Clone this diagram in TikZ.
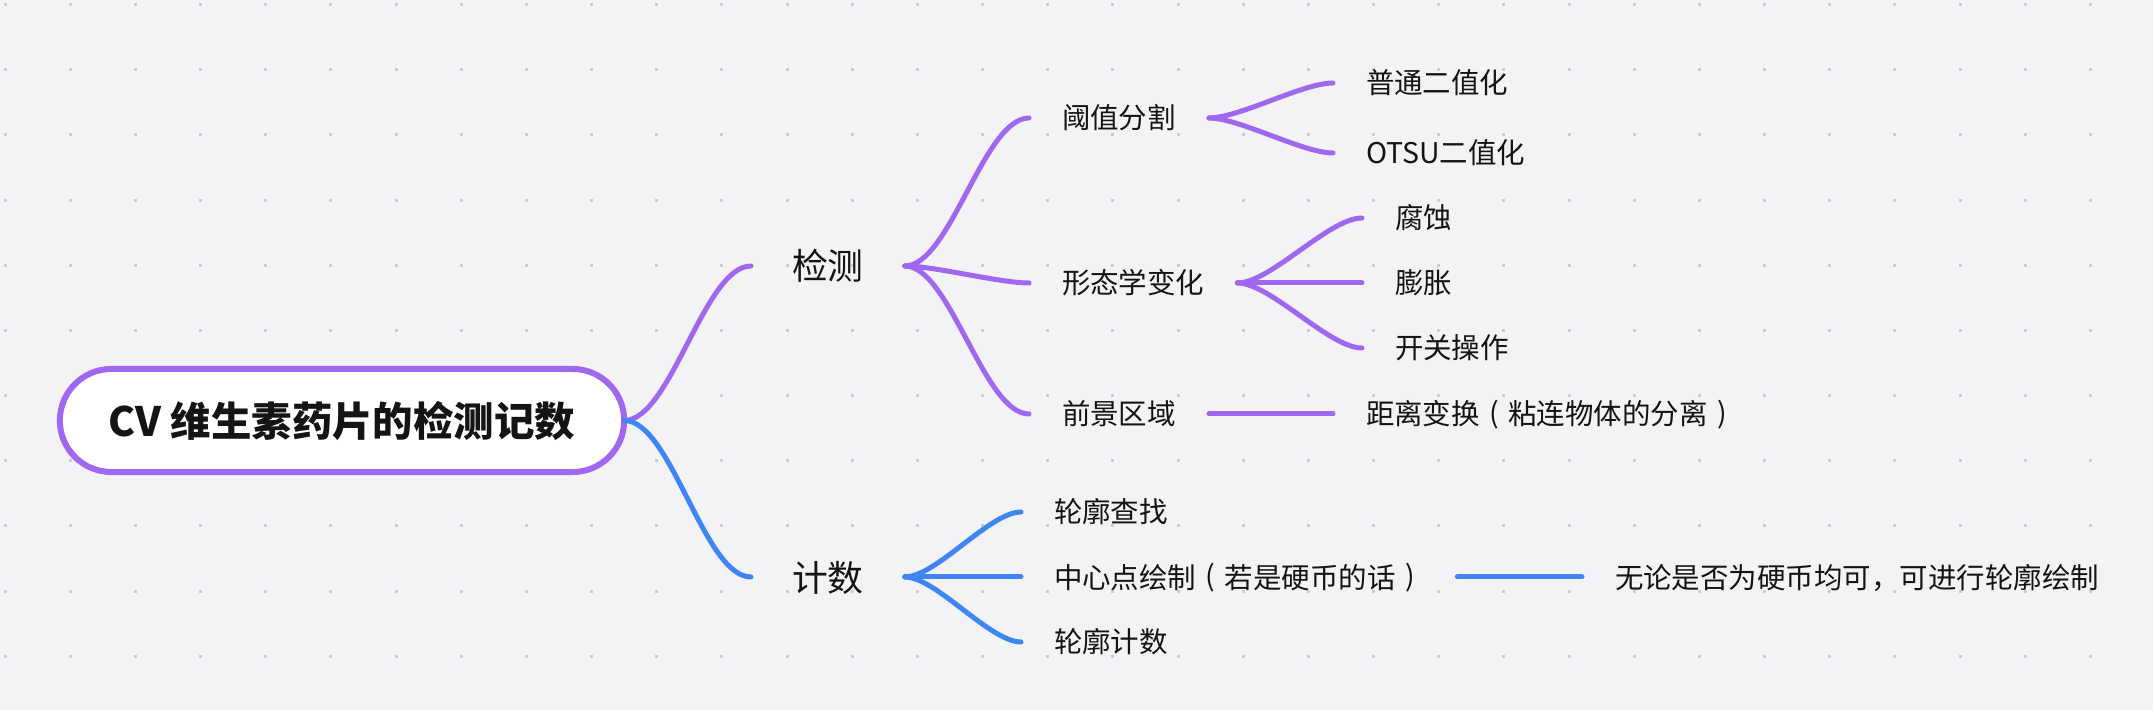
\documentclass[tikz,border=0pt]{standalone}
\usepackage{fontspec}
\setmainfont{Noto Sans CJK SC}
\usepackage{tikz}

\definecolor{mapbg}{RGB}{243,243,245}
\definecolor{griddot}{RGB}{204,204,208}
\definecolor{linkpurple}{RGB}{160,104,240}
\definecolor{linkblue}{RGB}{64,133,246}
\definecolor{inkblack}{RGB}{20,20,20}

\newcommand{\lparen}{\makebox[1em]{\raisebox{0.05em}{(}}}
\newcommand{\rparen}{\makebox[1em]{\raisebox{0.05em}{)}}}

\begin{document}
\begin{tikzpicture}[x=0.01cm, y=-0.01cm,
    every node/.style={text=inkblack, inner ysep=0pt, outer sep=0pt},
    centraltopic/.style={draw=linkpurple, line width=0.06cm, fill=white, rounded corners=0.515cm,
        minimum width=5.64cm, minimum height=1.03cm, inner xsep=0pt,
        font=\fontsize{11.5}{12}\selectfont\bfseries, text height=0.31cm, text depth=0cm},
    topic/.style={anchor=west, inner xsep=0.41cm, font=\fontsize{10.2}{11}\selectfont,
        text height=0.28cm, text depth=0cm},
    leaf/.style={anchor=west, inner xsep=0.33cm, font=\fontsize{8.1}{9}\selectfont,
        text height=0.22cm, text depth=0cm},
    maplink/.style={line width=0.05cm, line cap=round},
    purplelink/.style={maplink, draw=linkpurple},
    bluelink/.style={maplink, draw=linkblue},
    branch/.style={out=0, in=180, looseness=0.6}]

    \fill[mapbg] (0,0) rectangle (2153,710);
    \useasboundingbox (0,0) rectangle (2153,710);
    \foreach \i in {0,...,32}
        \foreach \j in {0,...,10}
            \fill[griddot] ({3.5+65.17*\i},{3+65.17*\j}) rectangle +(3,3);

    \node[centraltopic] (cv) at (342,420.5) {CV 维生素药片的检测记数};

    \node[topic] (jiance) at (751,266) {检测};
    \node[topic] (jishu) at (751,577) {计数};

    \node[leaf] (yuzhi) at (1029,118) {阈值分割};
    \node[leaf] (xingtai) at (1029,283) {形态学变化};
    \node[leaf] (qianjing) at (1029,414) {前景区域};
    \node[leaf] (chazhao) at (1021,512) {轮廓查找};
    \node[leaf] (zhongxin) at (1021,577) {中心点绘制\lparen 若是硬币的话\rparen};
    \node[leaf] (jishu2) at (1021,642) {轮廓计数};

    \node[leaf] (putong) at (1333,83) {普通二值化};
    \node[leaf] (otsu) at (1333,153) {OTSU二值化};
    \node[leaf] (fushi) at (1362,218) {腐蚀};
    \node[leaf] (pengzhang) at (1362,283) {膨胀};
    \node[leaf] (kaiguan) at (1362,348) {开关操作};
    \node[leaf] (juli) at (1333,414) {距离变换\lparen 粘连物体的分离\rparen};
    \node[leaf] (wulun) at (1582,577) {无论是否为硬币均可，可进行轮廓绘制};

    \draw[purplelink] (cv.east) to[branch] (jiance.west);
    \draw[bluelink] (cv.east) to[branch] (jishu.west);

    \draw[purplelink] (jiance.east) to[branch] (yuzhi.west);
    \draw[purplelink] (jiance.east) to[branch] (xingtai.west);
    \draw[purplelink] (jiance.east) to[branch] (qianjing.west);

    \draw[purplelink] (yuzhi.east) to[branch] (putong.west);
    \draw[purplelink] (yuzhi.east) to[branch] (otsu.west);
    \draw[purplelink] (xingtai.east) to[branch] (fushi.west);
    \draw[purplelink] (xingtai.east) -- (pengzhang.west);
    \draw[purplelink] (xingtai.east) to[branch] (kaiguan.west);
    \draw[purplelink] (qianjing.east) -- (juli.west);

    \draw[bluelink] (jishu.east) to[branch] (chazhao.west);
    \draw[bluelink] (jishu.east) -- (zhongxin.west);
    \draw[bluelink] (jishu.east) to[branch] (jishu2.west);
    \draw[bluelink] (zhongxin.east) -- (wulun.west);
\end{tikzpicture}
\end{document}
